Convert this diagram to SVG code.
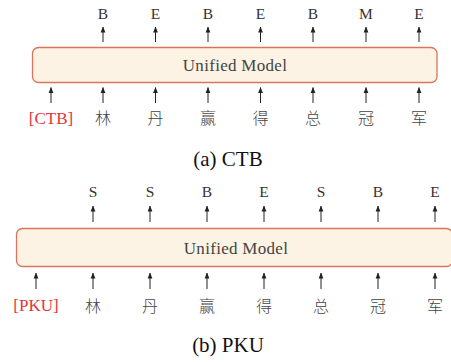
<svg xmlns="http://www.w3.org/2000/svg" width="451" height="362" viewBox="0 0 451 362">
<defs>
<marker id="ah" viewBox="0 0 6 6" refX="5.5" refY="3" markerWidth="6" markerHeight="6" markerUnits="userSpaceOnUse" orient="auto">
<path d="M0,0.6 L6,3 L0,5.4 Z" fill="#222"/>
</marker>
</defs>
<style>
.lbl{font-family:"Liberation Serif","DejaVu Serif",serif;font-size:15.5px;fill:#333;text-anchor:middle}
.um{font-family:"Liberation Serif","DejaVu Serif",serif;font-size:17px;fill:#444;text-anchor:middle;letter-spacing:0.3px}
.cn{font-family:"Noto Sans CJK SC","Noto Sans CJK JP",sans-serif;font-size:16px;font-weight:300;fill:#444;text-anchor:middle}
.tag{font-family:"Liberation Serif","DejaVu Serif",serif;font-size:17px;fill:#e8333b;text-anchor:middle}
.cap{font-family:"Liberation Serif","DejaVu Serif",serif;font-size:21px;fill:#111;text-anchor:middle}
.box{fill:#fdf3e4;stroke:#d8755a;stroke-width:1.3}
.arr{stroke:#222;stroke-width:1;marker-end:url(#ah)}
</style>
<g id="ctb">
<g id="ctb-model"><rect class="box" x="32.5" y="47.5" width="404.5" height="35" rx="6"/><text class="um" x="235" y="71">Unified Model</text></g>
<g id="ctb-out">
<text class="lbl" x="103" y="19">B</text><text class="lbl" x="155.5" y="19">E</text><text class="lbl" x="208" y="19">B</text><text class="lbl" x="260.5" y="19">E</text><text class="lbl" x="313" y="19">B</text><text class="lbl" x="366" y="19">M</text><text class="lbl" x="419" y="19">E</text>
</g>
<g id="ctb-in">
<text class="tag" x="51" y="124">[CTB]</text>
<text class="cn" x="103" y="124">林</text><text class="cn" x="155.5" y="124">丹</text><text class="cn" x="208" y="124">赢</text><text class="cn" x="260.5" y="124">得</text><text class="cn" x="313" y="124">总</text><text class="cn" x="366" y="124">冠</text><text class="cn" x="419" y="124">军</text>
</g>
<g id="ctb-connectors">
<line class="arr" x1="103" y1="42" x2="103" y2="27"/><line class="arr" x1="155.5" y1="42" x2="155.5" y2="27"/><line class="arr" x1="208" y1="42" x2="208" y2="27"/><line class="arr" x1="260.5" y1="42" x2="260.5" y2="27"/><line class="arr" x1="313" y1="42" x2="313" y2="27"/><line class="arr" x1="366" y1="42" x2="366" y2="27"/><line class="arr" x1="419" y1="42" x2="419" y2="27"/>
<line class="arr" x1="51" y1="103" x2="51" y2="87.5"/><line class="arr" x1="103" y1="103" x2="103" y2="87.5"/><line class="arr" x1="155.5" y1="103" x2="155.5" y2="87.5"/><line class="arr" x1="208" y1="103" x2="208" y2="87.5"/><line class="arr" x1="260.5" y1="103" x2="260.5" y2="87.5"/><line class="arr" x1="313" y1="103" x2="313" y2="87.5"/><line class="arr" x1="366" y1="103" x2="366" y2="87.5"/><line class="arr" x1="419" y1="103" x2="419" y2="87.5"/>
</g>
<text class="cap" x="228" y="166">(a) CTB</text>
</g>
<g id="pku">
<g id="pku-model"><rect class="box" x="16.5" y="228.5" width="436" height="38" rx="6"/><text class="um" x="236" y="254">Unified Model</text></g>
<g id="pku-out">
<text class="lbl" x="93" y="197">S</text><text class="lbl" x="150" y="197">S</text><text class="lbl" x="207" y="197">B</text><text class="lbl" x="264" y="197">E</text><text class="lbl" x="321" y="197">S</text><text class="lbl" x="378" y="197">B</text><text class="lbl" x="435" y="197">E</text>
</g>
<g id="pku-in">
<text class="tag" x="36" y="311">[PKU]</text>
<text class="cn" x="93" y="312">林</text><text class="cn" x="150" y="312">丹</text><text class="cn" x="207" y="312">赢</text><text class="cn" x="264" y="312">得</text><text class="cn" x="321" y="312">总</text><text class="cn" x="378" y="312">冠</text><text class="cn" x="435" y="312">军</text>
</g>
<g id="pku-connectors">
<line class="arr" x1="93" y1="222" x2="93" y2="206"/><line class="arr" x1="150" y1="222" x2="150" y2="206"/><line class="arr" x1="207" y1="222" x2="207" y2="206"/><line class="arr" x1="264" y1="222" x2="264" y2="206"/><line class="arr" x1="321" y1="222" x2="321" y2="206"/><line class="arr" x1="378" y1="222" x2="378" y2="206"/><line class="arr" x1="435" y1="222" x2="435" y2="206"/>
<line class="arr" x1="36" y1="289" x2="36" y2="273"/><line class="arr" x1="93" y1="289" x2="93" y2="273"/><line class="arr" x1="150" y1="289" x2="150" y2="273"/><line class="arr" x1="207" y1="289" x2="207" y2="273"/><line class="arr" x1="264" y1="289" x2="264" y2="273"/><line class="arr" x1="321" y1="289" x2="321" y2="273"/><line class="arr" x1="378" y1="289" x2="378" y2="273"/><line class="arr" x1="435" y1="289" x2="435" y2="273"/>
</g>
<text class="cap" x="228" y="352">(b) PKU</text>
</g>
</svg>
